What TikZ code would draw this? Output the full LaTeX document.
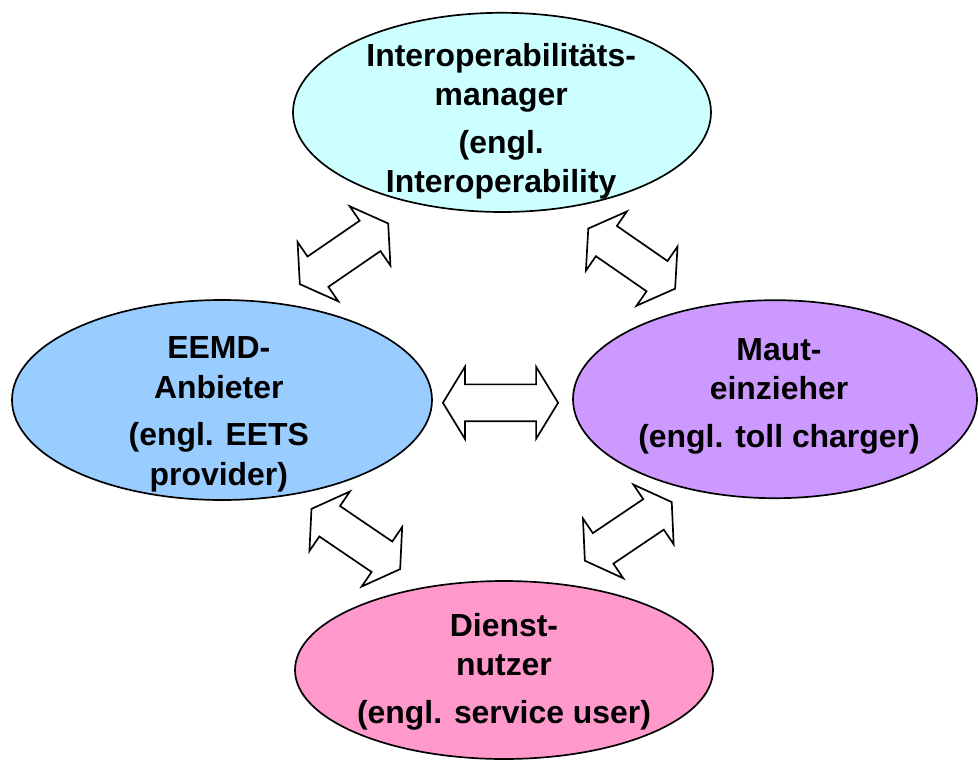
\documentclass[tikz,border=0pt]{standalone}
\usepackage{fontspec}
\setmainfont{Liberation Sans}
\usetikzlibrary{calc, shapes.geometric}
\definecolor{imcyan}{HTML}{CCFFFF}
\definecolor{eablue}{HTML}{99CCFF}
\definecolor{mcviolet}{HTML}{CC99FF}
\definecolor{supink}{HTML}{FF99CC}
\tikzset{bubble/.style={ellipse, draw, line width=1.2pt, inner sep=0pt},
         txt/.style={align=center, font=\bfseries\fontsize{22.7}{28}\selectfont},
         arrowbox/.style={draw, fill=white, line width=1.2pt},
         pics/twoway/.style={code={
           \draw[arrowbox] (-#1,0) -- (-#1+0.55,0.9) -- (-#1+0.55,0.46) -- (#1-0.55,0.46)
             -- (#1-0.55,0.9) -- (#1,0) -- (#1-0.55,-0.9) -- (#1-0.55,-0.46)
             -- (-#1+0.55,-0.46) -- (-#1+0.55,-0.9) -- cycle;}}}

\begin{document}
\begin{tikzpicture}
        \useasboundingbox (0,0) rectangle (24.45,-19.025);
        \node[bubble, fill=imcyan, minimum width=10.45cm, minimum height=4.98cm] (im) at (12.55,-2.81) {};
        \node[bubble, fill=eablue, minimum width=10.5cm, minimum height=5cm] (ea) at (5.55,-10) {};
        \node[bubble, fill=mcviolet, minimum width=10.1cm, minimum height=4.95cm] (mc) at (19.375,-9.98) {};
        \node[bubble, fill=supink, minimum width=10.45cm, minimum height=4.45cm] (su) at (12.6,-16.75) {};
        \node[txt] (imtxt) at ($(im)+(-0.02,-0.22)$) {Interoperabilitäts-\\manager\\[6pt](engl.\\Interoperability};
        \node[txt] (eatxt) at ($(ea)+(-0.08,-0.36)$) {EEMD-\\Anbieter\\[6pt](engl. EETS\\provider)};
        \node[txt] (mctxt) at ($(mc)+(0.1,0.08)$) {Maut-\\einzieher\\[6pt](engl. toll charger)};
        \node[txt] (sutxt) at ($(su)+(0,-0.05)$) {Dienst-\\nutzer\\[6pt](engl. service user)};
        % two-way arrows between the roles
        \pic[rotate=34.5] at ($(im)!0.5!(ea)+(-0.45,0.06)$) {twoway=1.34};
        \pic[rotate=-34.7] at ($(im)!0.5!(mc)+(-0.17,-0.07)$) {twoway=1.32};
        \pic at ($(ea)!0.5!(mc)+(0.05,-0.08)$) {twoway=1.44};
        \pic[rotate=-34.2] at ($(ea)!0.5!(su)+(-0.18,-0.1)$) {twoway=1.34};
        \pic[rotate=34] at ($(mc)!0.5!(su)+(-0.28,0.08)$) {twoway=1.31};
    \end{tikzpicture}
\end{document}
